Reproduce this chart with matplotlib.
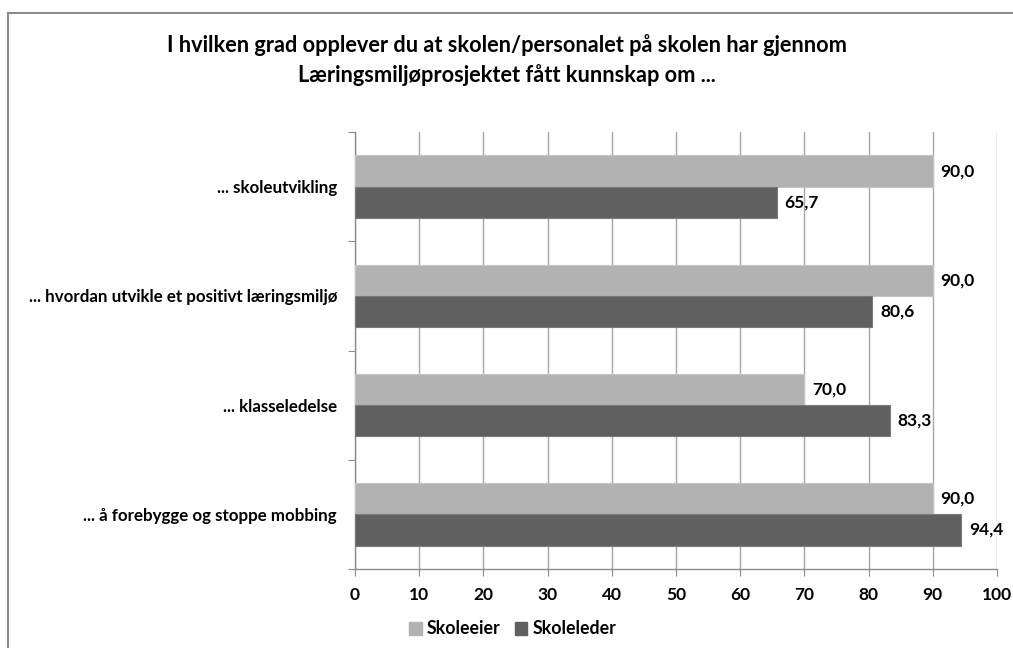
import matplotlib
matplotlib.use("Agg")
import matplotlib.pyplot as plt
from matplotlib.patches import Rectangle
from matplotlib.lines import Line2D

categories = ["... å forebygge og stoppe mobbing", "... klasseledelse",
              "... hvordan utvikle et positivt læringsmiljø", "... skoleutvikling"]
skoleeier = [90.0, 70.0, 90.0, 90.0]
skoleleder = [94.4, 83.3, 80.6, 65.7]
series_names = ["Skoleeier", "Skoleleder"]
xticks = [0, 10, 20, 30, 40, 50, 60, 70, 80, 90, 100]
title = ("I hvilken grad opplever du at skolen/personalet på skolen har gjennom\n"
         "Læringsmiljøprosjektet fått kunnskap om ...")

plt.rcParams['font.family'] = ['Lato', 'DejaVu Sans']
W, H = 1013, 648
fig = plt.figure(figsize=(W / 100, H / 100), dpi=100)

# outer border (left and top visible)
fig.add_artist(Line2D([8 / W, 8 / W], [0, 1 - 13 / H], color="#8c8c8c", lw=1.5,
                      transform=fig.transFigure))
fig.add_artist(Line2D([8 / W, 1.0], [1 - 13 / H, 1 - 13 / H], color="#8c8c8c", lw=1.5,
                      transform=fig.transFigure))

left, right = 355 / W, 997 / W
top, bottom = 1 - 132 / H, 1 - 569 / H
ax = fig.add_axes([left, bottom, right - left, top - bottom])

light = "#b2b2b2"
dark = "#606060"
h = 0.285
ys = list(range(len(categories)))
ax.barh([y + h / 2 for y in ys], skoleeier, height=h, color=light, edgecolor="#c4c4c4",
        linewidth=0.8, zorder=3, label=series_names[0])
ax.barh([y - h / 2 for y in ys], skoleleder, height=h, color=dark, edgecolor="#7a7a7a",
        linewidth=0.8, zorder=3, label=series_names[1])

for y, v in zip(ys, skoleeier):
    ax.text(v + 1.2, y + h / 2, f"{v:.1f}".replace(".", ","), va="center", ha="left",
            fontsize=12.5, fontweight="bold", color="black")
for y, v in zip(ys, skoleleder):
    ax.text(v + 1.2, y - h / 2, f"{v:.1f}".replace(".", ","), va="center", ha="left",
            fontsize=12.5, fontweight="bold", color="black")

ax.set_xlim(0, 100)
ax.set_ylim(-0.5, len(categories) - 0.5)
ax.set_xticks(xticks)
ax.set_xticklabels([str(t) for t in xticks], fontsize=12.5, fontweight="bold")
ax.xaxis.grid(True, color="#a6a6a6", lw=1, zorder=0)
ax.set_yticks([y - 0.5 for y in ys] + [len(categories) - 0.5])
ax.set_yticklabels([])
ax.set_yticks(ys, minor=True)
ax.set_yticklabels(categories, minor=True, fontsize=12.2, fontweight="bold")
ax.tick_params(axis="y", which="minor", length=0, pad=13)
ax.tick_params(axis="y", which="major", length=5, color="#8c8c8c", direction="out")
ax.tick_params(axis="x", length=5, color="#8c8c8c", direction="out", pad=8)
for s in ["top", "right"]:
    ax.spines[s].set_visible(False)
for s in ["left", "bottom"]:
    ax.spines[s].set_color("#8c8c8c")
    ax.spines[s].set_linewidth(1)

fig.text(507 / W, 1 - 60 / H, title, ha="center", va="center", fontsize=15.7,
         fontweight="bold", linespacing=1.45)

handles = [Rectangle((0, 0), 1, 1, color=light), Rectangle((0, 0), 1, 1, color=dark)]
fig.legend(handles, series_names, loc="center", bbox_to_anchor=(513 / W, 1 - 629 / H),
           ncol=2, frameon=False, handlelength=0.7, handleheight=0.7, handletextpad=0.3,
           columnspacing=0.8, prop={"weight": "bold", "size": 12.8})

fig.savefig("out.png", dpi=100, facecolor="white")
